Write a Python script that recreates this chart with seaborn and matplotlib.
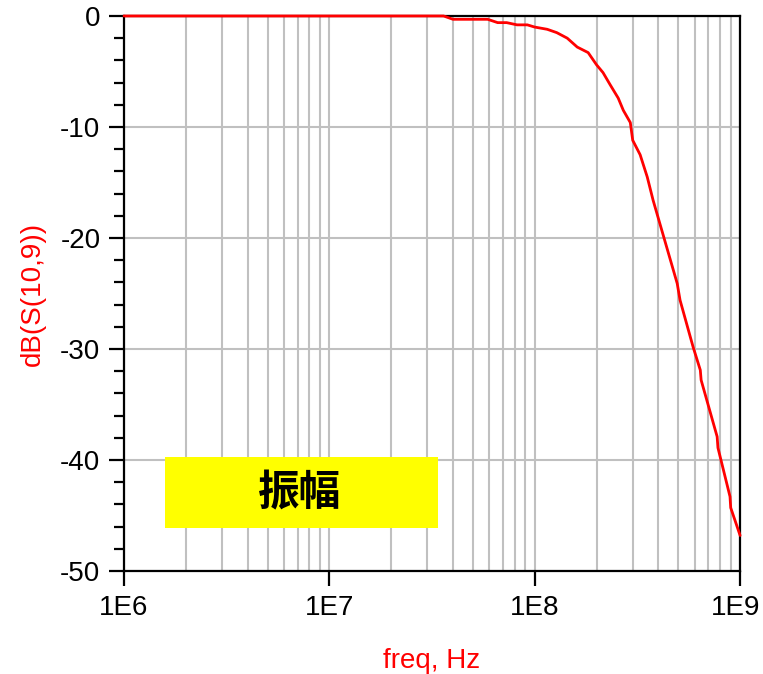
import numpy as np
import pandas as pd
import matplotlib
matplotlib.use("Agg")
import matplotlib.pyplot as plt
import matplotlib.transforms as mtransforms
import seaborn as sns
from matplotlib.patches import Rectangle
from matplotlib.ticker import LogLocator, MultipleLocator, FixedFormatter, FixedLocator

# data
freq = [1e6, 3.6e7, 4.0e7, 5.9e7, 6.6e7, 7.3e7, 8.2e7, 9.2e7, 1.0e8, 1.15e8,
        1.28e8, 1.44e8, 1.61e8, 1.82e8, 2.0e8, 2.15e8, 2.33e8, 2.55e8, 2.7e8,
        2.92e8, 3.0e8, 3.26e8, 3.53e8, 3.77e8, 4.94e8, 5.1e8, 5.9e8, 6.4e8,
        6.46e8, 7.73e8, 7.8e8, 8.93e8, 9.0e8, 1e9]
s10_9_db = [0, 0, -0.3, -0.3, -0.6, -0.6, -0.8, -0.8, -1.0, -1.2,
            -1.5, -2.0, -2.8, -3.3, -4.4, -5.1, -6.2, -7.4, -8.5,
            -9.6, -11.2, -12.5, -14.5, -16.6, -24.1, -25.6, -29.8, -31.9,
            -32.8, -37.9, -38.9, -43.3, -44.3, -46.8]
xtick_vals = [1e6, 1e7, 1e8, 1e9]
xtick_labels = ["1E6", "1E7", "1E8", "1E9"]
ytick_vals = [0, -10, -20, -30, -40, -50]
box_text = "振幅"

df = pd.DataFrame({"freq": freq, "db": s10_9_db})

sns.set_style("white")
plt.rcParams['font.family'] = ['Liberation Sans', 'Noto Sans CJK SC', 'DejaVu Sans']
plt.rcParams['axes.unicode_minus'] = False

fig = plt.figure(figsize=(7.63, 6.74), dpi=100)
ax = fig.add_axes([0.1625, 0.1528, 0.8075, 0.8235])

ax.set_xscale("log")
ax.set_xlim(1e6, 1e9)
ax.set_ylim(-50, 0)

# grid
ax.xaxis.set_major_locator(FixedLocator(xtick_vals))
ax.xaxis.set_major_formatter(FixedFormatter(xtick_labels))
ax.xaxis.set_minor_locator(LogLocator(base=10, subs=np.arange(2, 10)))
ax.yaxis.set_major_locator(FixedLocator(ytick_vals))
ax.yaxis.set_minor_locator(MultipleLocator(2))
ax.grid(True, which="both", axis="x", color="#c0c0c0", lw=1.5)
ax.grid(True, which="major", axis="y", color="#c0c0c0", lw=1.5)
ax.set_axisbelow(True)

sns.lineplot(data=df, x="freq", y="db", color="red", lw=2, ax=ax, zorder=5)
for ln in ax.lines:
    ln.set_clip_on(False)

for sp in ax.spines.values():
    sp.set_color("black")
    sp.set_linewidth(1.6)
    sp.set_zorder(4)

ax.tick_params(axis="both", which="major", direction="out", length=11, width=1.6,
               color="black", labelcolor="black", labelsize=20, pad=6,
               left=True, bottom=True)
ax.tick_params(axis="x", which="minor", length=0)
ax.tick_params(axis="y", which="minor", direction="out", length=7, width=1.6,
               color="black", left=True)

# last x label sits a bit left so it stays inside the figure
last = ax.get_xticklabels()[-1]
last.set_transform(last.get_transform() +
                   mtransforms.ScaledTranslation(-4 / 100, 0, fig.dpi_scale_trans))

ax.set_xlabel("freq, Hz", color="red", fontsize=20, labelpad=20)
ax.set_ylabel("dB(S(10,9))", color="red", fontsize=20, labelpad=10)

# yellow label box
ax.add_patch(Rectangle((0.0666, 0.0775), 0.4431, 0.1279, transform=ax.transAxes,
                       facecolor="#ffff00", edgecolor="none", zorder=6))
ax.text(0.2857, 0.1405, box_text, transform=ax.transAxes, ha="center", va="center",
        fontsize=30, fontweight="bold", color="black",
        family=['Noto Sans CJK SC', 'DejaVu Sans'], zorder=7)

fig.savefig("out.png", dpi=100)
